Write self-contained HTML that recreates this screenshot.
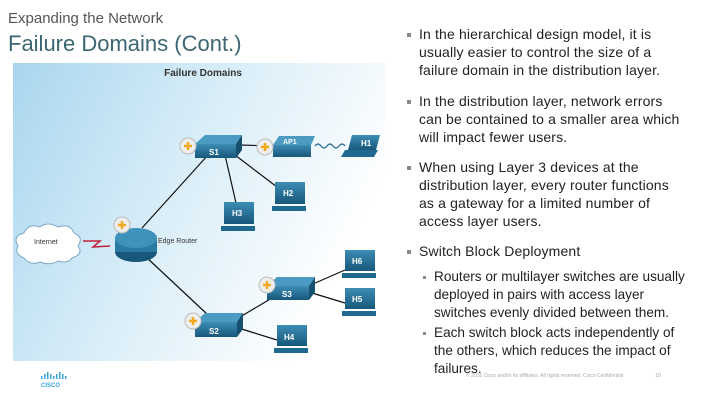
<!DOCTYPE html>
<html><head><meta charset="utf-8"><style>
body{margin:0;width:720px;height:405px;background:#fff;position:relative;overflow:hidden;font-family:"Liberation Sans",sans-serif}
.l{position:absolute;font-size:14px;line-height:18px;color:#222;white-space:nowrap;letter-spacing:0.15px}
.s{font-size:13.6px;letter-spacing:0}
.b{position:absolute;width:4px;height:4px;background:#888}
</style></head><body>
<div style="position:absolute;left:8px;top:10px;font-size:15px;color:#555">Expanding the Network</div>
<div style="position:absolute;left:8px;top:31px;font-size:22px;color:#3b6672">Failure Domains (Cont.)</div>

<svg style="position:absolute;left:0;top:0" width="400" height="405">
<defs>
<linearGradient id="bg" x1="0" y1="0" x2="1" y2="0.4">
<stop offset="0" stop-color="#a9d6ee"/><stop offset="0.45" stop-color="#d3ebf7"/><stop offset="1" stop-color="#ffffff"/></linearGradient>
<linearGradient id="dev" x1="0" y1="0" x2="0" y2="1"><stop offset="0" stop-color="#3d8db5"/><stop offset="1" stop-color="#17577a"/></linearGradient>
</defs>
<rect x="13" y="63" width="372" height="298" fill="url(#bg)"/>
<text x="203" y="76" font-size="10" font-weight="bold" fill="#333" text-anchor="middle" font-family="Liberation Sans">Failure Domains</text>
<g stroke="#111" stroke-width="1.2">
<line x1="142" y1="228" x2="208" y2="155"/>
<line x1="225" y1="155" x2="236" y2="203"/>
<line x1="235" y1="155" x2="277" y2="187"/>
<line x1="240" y1="145" x2="273" y2="146"/>
<line x1="145" y1="256" x2="208" y2="315"/>
<line x1="240" y1="317" x2="272" y2="298"/>
<line x1="235" y1="327" x2="277" y2="340"/>
<line x1="313" y1="284" x2="345" y2="270"/>
<line x1="312" y1="293" x2="345" y2="303"/>
</g>
<path d="M83 241 L100 241 L93 247 L110 246" stroke="#c0203a" stroke-width="1.5" fill="none"/>
<path d="M315 146 q3 -4 6 0 q3 4 6 0 q3 -4 6 0 q3 4 6 0 q3 -4 6 0" stroke="#2a6e95" fill="none" stroke-width="1.2"/>
<path d="M24 258 q-10 -4 -6 -12 q-6 -10 6 -13 q4 -10 16 -6 q8 -6 18 0 q12 -4 16 6 q10 4 4 13 q6 8 -6 12 q-4 6 -14 3 q-8 5 -18 1 q-10 4 -16 -4Z" fill="#fff" stroke="#7aa8c3"/>
<text x="34" y="244" font-size="7" fill="#333" font-family="Liberation Sans">Internet</text>
<ellipse cx="136" cy="252" rx="21" ry="10" fill="#17577a"/>
<rect x="115" y="238" width="42" height="14" fill="#2a7aa3"/>
<ellipse cx="136" cy="238" rx="21" ry="10" fill="#3f93bb"/>
<text x="158" y="243" font-size="7" fill="#333" font-family="Liberation Sans">Edge Router</text>
<g font-family="Liberation Sans" font-size="8" font-weight="bold" fill="#fff">
<path d="M195 144 L205 135 L242 135 L236 144 Z" fill="#4a9ac2"/><rect x="195" y="144" width="41" height="14" fill="url(#dev)"/><path d="M236 144 L242 135 L242 150 L236 158Z" fill="#16506f"/><text x="209" y="155">S1</text>
<path d="M267 286 L277 277 L315 277 L309 286 Z" fill="#4a9ac2"/><rect x="267" y="286" width="42" height="14" fill="url(#dev)"/><path d="M309 286 L315 277 L315 292 L309 300Z" fill="#16506f"/><text x="282" y="297">S3</text>
<path d="M195 322 L205 313 L243 313 L237 322 Z" fill="#4a9ac2"/><rect x="195" y="322" width="42" height="15" fill="url(#dev)"/><path d="M237 322 L243 313 L243 329 L237 337Z" fill="#16506f"/><text x="209" y="334">S2</text>
<path d="M273 145 L279 136 L315 136 L311 145 Z" fill="#4a9ac2"/><rect x="273" y="145" width="38" height="12" fill="url(#dev)"/><text x="283" y="144" font-size="7">AP1</text>
<rect x="275" y="182" width="30" height="22" fill="url(#dev)"/><rect x="272" y="206" width="34" height="5" fill="#1f6890"/><text x="283" y="196">H2</text>
<rect x="224" y="202" width="30" height="22" fill="url(#dev)"/><rect x="221" y="226" width="34" height="5" fill="#1f6890"/><text x="232" y="216">H3</text>
<rect x="345" y="250" width="30" height="21" fill="url(#dev)"/><rect x="342" y="273" width="34" height="5" fill="#1f6890"/><text x="352" y="264">H6</text>
<rect x="345" y="288" width="30" height="21" fill="url(#dev)"/><rect x="342" y="311" width="34" height="5" fill="#1f6890"/><text x="352" y="302">H5</text>
<rect x="277" y="325" width="30" height="21" fill="url(#dev)"/><rect x="274" y="348" width="34" height="5" fill="#1f6890"/><text x="284" y="340">H4</text>
<path d="M352 135 L380 135 L376 150 L348 150Z" fill="url(#dev)"/><path d="M345 150 L378 150 L374 157 L341 157Z" fill="#1f6890"/><text x="361" y="146">H1</text>
</g>
<g>
<g transform="translate(188,146)"><circle r="8" fill="#eee" stroke="#bbb"/><path d="M-4 0H4M0 -4V4" stroke="#f0a81c" stroke-width="2.5"/></g>
<g transform="translate(265,147)"><circle r="8" fill="#eee" stroke="#bbb"/><path d="M-4 0H4M0 -4V4" stroke="#f0a81c" stroke-width="2.5"/></g>
<g transform="translate(122,225)"><circle r="8" fill="#eee" stroke="#bbb"/><path d="M-4 0H4M0 -4V4" stroke="#f0a81c" stroke-width="2.5"/></g>
<g transform="translate(267,285)"><circle r="8" fill="#eee" stroke="#bbb"/><path d="M-4 0H4M0 -4V4" stroke="#f0a81c" stroke-width="2.5"/></g>
<g transform="translate(193,321)"><circle r="8" fill="#eee" stroke="#bbb"/><path d="M-4 0H4M0 -4V4" stroke="#f0a81c" stroke-width="2.5"/></g>
</g>
<g fill="#3aa6dd">
<rect x="41" y="376" width="1.5" height="3"/><rect x="44" y="374" width="1.5" height="5"/><rect x="47" y="372" width="1.5" height="7"/><rect x="50" y="374" width="1.5" height="5"/><rect x="53" y="376" width="1.5" height="3"/>
<rect x="56" y="374" width="1.5" height="5"/><rect x="59" y="372" width="1.5" height="7"/><rect x="62" y="374" width="1.5" height="5"/><rect x="65" y="376" width="1.5" height="3"/>
<text x="41" y="387" font-size="6" font-weight="bold" font-family="Liberation Sans">CISCO</text>
</g>
</svg>

<div class="b" style="left:407px;top:33px"></div>
<div class="l" style="left:419px;top:25px">In the hierarchical design model, it is</div>
<div class="l" style="left:419px;top:43px">usually easier to control the size of a</div>
<div class="l" style="left:419px;top:61px">failure domain in the distribution layer.</div>
<div class="b" style="left:407px;top:100px"></div>
<div class="l" style="left:419px;top:92px">In the distribution layer, network errors</div>
<div class="l" style="left:419px;top:110px">can be contained to a smaller area which</div>
<div class="l" style="left:419px;top:128px">will impact fewer users.</div>
<div class="b" style="left:407px;top:166px"></div>
<div class="l" style="left:419px;top:158px">When using Layer 3 devices at the</div>
<div class="l" style="left:419px;top:176px">distribution layer, every router functions</div>
<div class="l" style="left:419px;top:194px">as a gateway for a limited number of</div>
<div class="l" style="left:419px;top:212px">access layer users.</div>
<div class="b" style="left:407px;top:250px"></div>
<div class="l" style="left:419px;top:242px">Switch Block Deployment</div>
<div class="b" style="left:423px;top:276px;width:3px;height:3px"></div>
<div class="l s" style="left:434px;top:268px">Routers or multilayer switches are usually</div>
<div class="l s" style="left:434px;top:286px">deployed in pairs with access layer</div>
<div class="l s" style="left:434px;top:304px">switches evenly divided between them.</div>
<div class="b" style="left:423px;top:332px;width:3px;height:3px"></div>
<div class="l s" style="left:434px;top:324px">Each switch block acts independently of</div>
<div class="l s" style="left:434px;top:342px">the others, which reduces the impact of</div>
<div class="l s" style="left:434px;top:360px">failures.</div>
<div style="position:absolute;left:466px;top:373px;font-size:5px;color:#aaa;white-space:nowrap">© 2016  Cisco and/or its affiliates. All rights reserved.   Cisco Confidential&nbsp;&nbsp;&nbsp;&nbsp;&nbsp;&nbsp;&nbsp;&nbsp;&nbsp;&nbsp;&nbsp;&nbsp;&nbsp;&nbsp;&nbsp;&nbsp;&nbsp;&nbsp;&nbsp;&nbsp;&nbsp;&nbsp;&nbsp;18</div>
</body></html>
